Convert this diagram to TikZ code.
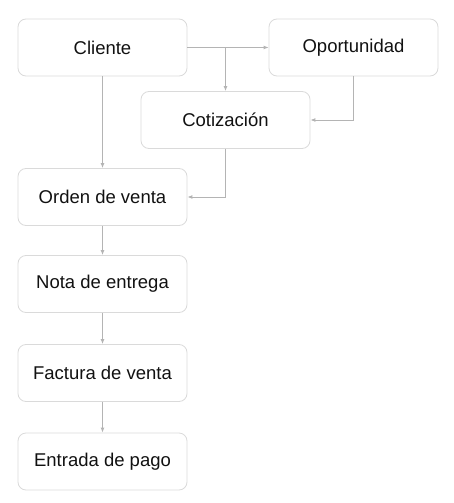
\documentclass[tikz,border=0pt]{standalone}
\usepackage{fontspec}
\setmainfont{Liberation Sans}
\usepackage{xcolor}
\usetikzlibrary{arrows.meta,positioning,calc}
\definecolor{boxgray}{HTML}{DADADA}
\definecolor{linkgray}{HTML}{B4B4B4}
\definecolor{textgray}{HTML}{111111}

\begin{document}
\begin{tikzpicture}[
    x=1pt, y=-1pt,
    boxnode/.style={draw=boxgray, line width=0.8pt, rounded corners=8pt, minimum width=169pt, minimum height=57pt, text=textgray, font=\fontsize{18.5}{20}\selectfont},
    link/.style={draw=linkgray, line width=0.9pt, -{Latex[length=5pt,width=4pt]}}
]
    \useasboundingbox (0,0) rectangle (453,503);
    \node[boxnode] (cli) at (102.5, 47.5) {Cliente};
    \node[boxnode] (opo) at (353.5, 47.5) {Oportunidad};
    \node[boxnode] (cot) at (225.5, 120) {Cotización};
    \foreach \n/\y/\txt in {ord/197/Orden de venta, not/284/Nota de entrega, fac/373/Factura de venta, ent/461.5/Entrada de pago}
        \node[boxnode] (\n) at (102.5, \y) {\txt};

    \coordinate (split) at (cot.north |- cli.east);
    \draw[link] (cli.east) -- (opo.west);
    \draw[link] (split) -- (cot.north);
    \draw[link] (opo.south) |- (cot.east);
    \draw[link] (cot.south) |- (ord.east);
    \draw[link] (cli.south) -- (ord.north);
    \draw[link] (ord) -- (not);
    \draw[link] (not) -- (fac);
    \draw[link] (fac) -- (ent);
\end{tikzpicture}
\end{document}
